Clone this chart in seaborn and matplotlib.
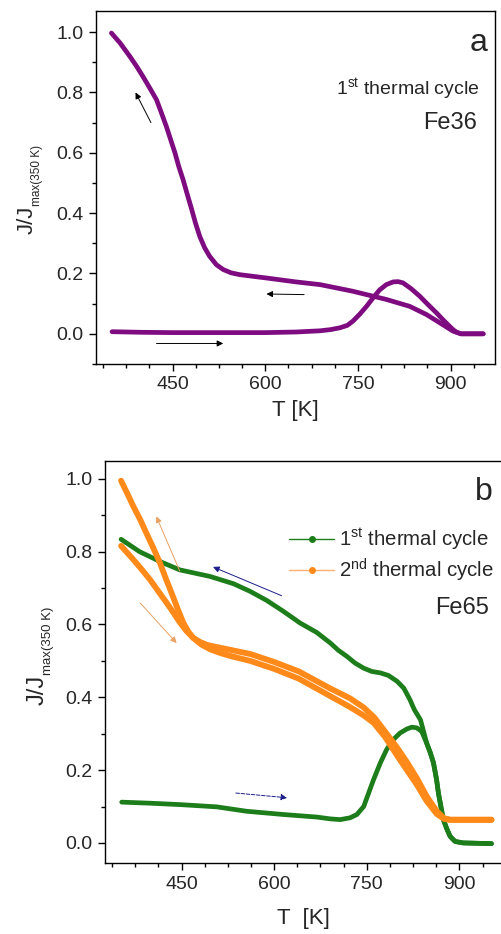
import matplotlib
matplotlib.use("Agg")
import matplotlib.pyplot as plt
from matplotlib.lines import Line2D
from matplotlib.ticker import MultipleLocator, FormatStrFormatter
import seaborn as sns
import pandas as pd

# ---------------- data ----------------
# Panel a : Fe36, 1st thermal cycle
fe36_heat_T = [352, 400, 450, 500, 550, 600, 650, 689, 706, 721, 733, 742, 753, 764, 775, 785, 796, 807, 815, 823,
               836, 850, 863, 877, 890, 904, 910, 917, 930, 953]
fe36_heat_J = [0.007, 0.005, 0.004, 0.004, 0.004, 0.004, 0.006, 0.010, 0.014, 0.020, 0.028, 0.042, 0.065, 0.091, 0.120,
               0.145, 0.163, 0.172, 0.173, 0.169, 0.150, 0.125, 0.098, 0.070, 0.042, 0.014, 0.005, 0.0, 0.0, 0.0]
fe36_cool_T = [953, 917, 904, 883, 861, 834, 796, 742, 689, 650, 602, 559, 545, 532, 521, 510, 502, 494, 487, 481, 474,
               467, 460, 454, 447, 440, 432, 424, 413, 402, 392, 381, 365, 351]
fe36_cool_J = [0.0, 0.0, 0.009, 0.036, 0.064, 0.091, 0.114, 0.141, 0.163, 0.172, 0.185, 0.196, 0.202, 0.213, 0.229,
               0.257, 0.285, 0.323, 0.368, 0.412, 0.461, 0.511, 0.555, 0.599, 0.643, 0.687, 0.732, 0.776, 0.815,
               0.853, 0.886, 0.919, 0.964, 0.997]

# Panel b : Fe65, 1st and 2nd thermal cycle
fe65_c1_heat_T = [353, 400, 450, 507, 555, 615, 669, 691, 707, 723, 734, 745, 753, 761, 772, 782, 793, 804, 815, 823,
                  831, 839, 847, 853, 858, 863, 866, 871, 874, 880, 885, 893, 906, 952]
fe65_c1_heat_J = [0.112, 0.109, 0.105, 0.099, 0.087, 0.078, 0.071, 0.066, 0.064, 0.069, 0.078, 0.100, 0.137, 0.174,
                  0.220, 0.256, 0.284, 0.302, 0.313, 0.318, 0.316, 0.306, 0.274, 0.247, 0.220, 0.174, 0.137, 0.091,
                  0.064, 0.037, 0.018, 0.004, 0.0, -0.002]
fe65_c1_cool_T = [952, 906, 893, 885, 880, 874, 871, 866, 863, 858, 853, 847, 842, 837, 827, 820, 810, 799, 785, 772,
                  758, 745, 731, 718, 704, 691, 669, 642, 615, 588, 561, 534, 496, 447, 415, 382, 352]
fe65_c1_cool_J = [-0.002, 0.0, 0.004, 0.018, 0.037, 0.064, 0.091, 0.137, 0.174, 0.220, 0.247, 0.274, 0.306, 0.338,
                  0.366, 0.393, 0.425, 0.444, 0.460, 0.467, 0.471, 0.480, 0.494, 0.512, 0.529, 0.549, 0.578, 0.604,
                  0.636, 0.666, 0.691, 0.712, 0.732, 0.750, 0.773, 0.800, 0.834]
fe65_c2_heat_T = [352, 362, 372, 385, 399, 412, 426, 437, 447, 458, 469, 482, 496, 512, 530, 561, 600, 640, 690, 723,
                  745, 761, 780, 799, 815, 831, 847, 863, 875, 885, 952]
fe65_c2_heat_J = [0.816, 0.797, 0.778, 0.752, 0.723, 0.692, 0.659, 0.632, 0.606, 0.582, 0.563, 0.545, 0.532, 0.522,
                  0.513, 0.500, 0.478, 0.451, 0.404, 0.373, 0.350, 0.330, 0.290, 0.240, 0.200, 0.160, 0.115, 0.080,
                  0.066, 0.063, 0.063]
fe65_c2_cool_T = [952, 885, 875, 863, 847, 831, 815, 799, 780, 762, 745, 723, 690, 640, 600, 561, 530, 510, 491, 480,
                  469, 461, 453, 445, 436, 425, 415, 404, 393, 383, 372, 362, 352]
fe65_c2_cool_J = [0.064, 0.064, 0.068, 0.088, 0.128, 0.178, 0.222, 0.262, 0.305, 0.345, 0.372, 0.397, 0.425, 0.471,
                  0.497, 0.519, 0.530, 0.537, 0.544, 0.552, 0.563, 0.580, 0.604, 0.637, 0.677, 0.724, 0.769, 0.811,
                  0.851, 0.888, 0.924, 0.960, 0.995]

legend_labels = [r"1$^{\mathregular{st}}$ thermal cycle", r"2$^{\mathregular{nd}}$ thermal cycle"]

# ---------------- style ----------------
sns.set_style("ticks")
plt.rcParams["font.family"] = ["Liberation Sans", "DejaVu Sans"]
plt.rcParams["mathtext.default"] = "regular"

PURPLE = "#7E0C80"
GREEN = "#1C7D1A"
ORANGE = "#FF8A1A"
NAVY = "#1B1B8A"
ARROW_OR = "#E9A264"

W, H = 502, 934
fig = plt.figure(figsize=(W / 100, H / 100), dpi=100)
ax1 = fig.add_axes([0.1912, 0.6103, 0.7948, 0.3779])
ax2 = fig.add_axes([0.2092, 0.0757, 0.7908, 0.4307])


def draw(ax, T, J, color, lw):
    df = pd.DataFrame({"T": T, "J": J})
    sns.lineplot(data=df, x="T", y="J", sort=False, estimator=None, ax=ax,
                 color=color, lw=lw, solid_capstyle="round", solid_joinstyle="round")


draw(ax1, fe36_heat_T, fe36_heat_J, PURPLE, 3.4)
draw(ax1, fe36_cool_T, fe36_cool_J, PURPLE, 3.4)

draw(ax2, fe65_c1_heat_T, fe65_c1_heat_J, GREEN, 3.4)
draw(ax2, fe65_c1_cool_T, fe65_c1_cool_J, GREEN, 3.4)
draw(ax2, fe65_c2_heat_T, fe65_c2_heat_J, ORANGE, 4.2)
draw(ax2, fe65_c2_cool_T, fe65_c2_cool_J, ORANGE, 4.2)


def arrow(ax, start, end, color, ls="-", lw=0.7):
    ax.annotate("", xy=end, xytext=start,
                arrowprops=dict(arrowstyle="-|>", color=color, lw=lw, ls=ls,
                                mutation_scale=9, shrinkA=0, shrinkB=0))


# arrows panel a
arrow(ax1, (415, 0.70), (390, 0.80), "black")
arrow(ax1, (663, 0.13), (602, 0.132), "black")
arrow(ax1, (424, -0.032), (532, -0.032), "black")
# arrows panel b
arrow(ax2, (447, 0.747), (409, 0.897), ARROW_OR)
arrow(ax2, (383, 0.659), (442, 0.549), ARROW_OR)
arrow(ax2, (612, 0.679), (501, 0.758), NAVY)
arrow(ax2, (538, 0.137), (621, 0.124), NAVY, ls="--")

for ax, xlim, ylim in [(ax1, (326, 972), (-0.1, 1.07)), (ax2, (326, 969), (-0.056, 1.049))]:
    ax.set_xlim(*xlim)
    ax.set_ylim(*ylim)
    ax.xaxis.set_major_locator(MultipleLocator(150))
    ax.xaxis.set_minor_locator(MultipleLocator(37.5))
    ax.yaxis.set_major_locator(MultipleLocator(0.2))
    ax.yaxis.set_minor_locator(MultipleLocator(0.1))
    ax.yaxis.set_major_formatter(FormatStrFormatter("%.1f"))
    ax.tick_params(which="major", direction="out", length=5, width=1, labelsize=14, pad=4, color="black")
    ax.tick_params(which="minor", direction="out", length=3, width=1, color="black")
    ax.tick_params(top=False, right=False)
    for s in ax.spines.values():
        s.set_linewidth(1.0)
        s.set_color("black")
    ax.set_ylabel("")

ax1.set_xlabel("T [K]", fontsize=16, labelpad=5)
ax2.set_xlabel("T  [K]", fontsize=16, labelpad=11)
ax2.spines["right"].set_visible(False)


# y labels: J/J with a small subscript
def ylabel(xc_main, yb_main, xc_sub, yb_sub, fs_main, fs_sub):
    fig.text(xc_main / W, 1 - yb_main / H, "J/J", rotation=90, fontsize=fs_main, ha="center", va="bottom")
    fig.text(xc_sub / W, 1 - yb_sub / H, "max(350 K)", rotation=90, fontsize=fs_sub, ha="center", va="bottom")


ylabel(27, 234, 37, 206, 16, 8.5)
ylabel(38, 705, 48, 675, 17, 9.5)

# texts
ax1.text(0.96, 0.909, "a", transform=ax1.transAxes, fontsize=23, ha="center", va="center")
ax1.text(0.962, 0.779, r"1$^{\mathregular{st}}$ thermal cycle", transform=ax1.transAxes,
         fontsize=14, ha="right", va="center")
ax1.text(0.955, 0.683, "Fe36", transform=ax1.transAxes, fontsize=17, ha="right", va="center")

ax2.text(0.955, 0.923, "b", transform=ax2.transAxes, fontsize=23, ha="center", va="center")
ax2.text(0.967, 0.635, "Fe65", transform=ax2.transAxes, fontsize=17, ha="right", va="center")

handles = [Line2D([], [], color=GREEN, lw=1.0, marker="o", markersize=4),
           Line2D([], [], color="#FFB070", lw=1.0, marker="o", markersize=4,
                  markerfacecolor=ORANGE, markeredgecolor=ORANGE)]
ax2.legend(handles, legend_labels, loc="upper right", bbox_to_anchor=(494 / W, 1 - 527 / H),
           bbox_transform=fig.transFigure, frameon=False, fontsize=14.7, handlelength=2.2,
           handletextpad=0.25, labelspacing=0.2, borderpad=0, borderaxespad=0)

fig.savefig("out.png", dpi=100)
